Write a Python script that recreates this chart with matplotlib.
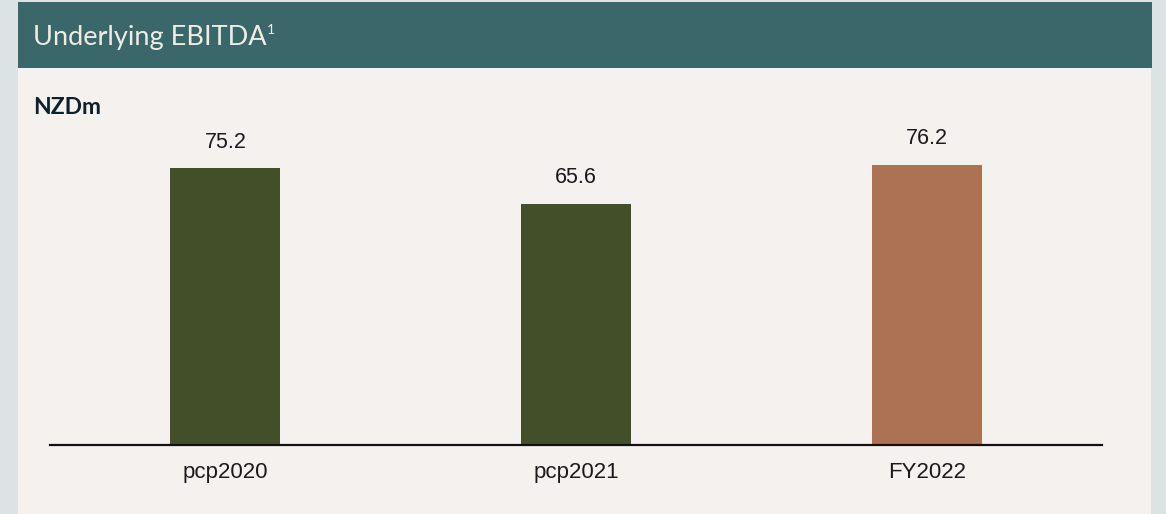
import matplotlib.pyplot as plt
from matplotlib.patches import Rectangle

# Underlying EBITDA, NZD millions
periods = ['pcp2020', 'pcp2021', 'FY2022']
ebitda = [75.2, 65.6, 76.2]
bar_colors = ['#424f29', '#424f29', '#ab7254']

plt.rcParams['font.family'] = ['Liberation Sans', 'DejaVu Sans']

W, H = 1166, 514
fig = plt.figure(figsize=(W / 100, H / 100), dpi=100)
fig.patch.set_facecolor('#dce3e5')

# card body and header strip (pixel coordinates from top-left)
def px_rect(x0, y0, x1, y1, color):
    fig.patches.append(Rectangle((x0 / W, 1 - y1 / H), (x1 - x0) / W, (y1 - y0) / H,
                                 transform=fig.transFigure, facecolor=color,
                                 edgecolor='none', zorder=-10))

px_rect(18, 68, 1151, 514, '#f4f1ee')
px_rect(18, 2, 1152, 68, '#3a6769')

title = fig.text(33 / W, 1 - 38 / H, 'Underlying EBITDA', color='#f0ece4',
                 fontsize=19.5, fontfamily='Lato', va='center', ha='left')
fig.canvas.draw()
bb = title.get_window_extent()
fig.text(bb.x1 / W, 1 - 30 / H, '1', color='#f0ece4', fontsize=10,
         fontfamily='Lato', va='center', ha='left')
fig.text(33 / W, 1 - 107 / H, 'NZDm', color='#10202a', fontsize=16.5,
         fontfamily='Lato', fontweight='bold', va='center', ha='left')

# plot area: baseline at y=445px, from x=50 to 1102
ax = fig.add_axes([50 / W, 1 - 445 / H, (1102 - 50) / W, (445 - 114) / H])
ax.set_facecolor('none')
ax.bar(range(len(periods)), ebitda, width=0.314, color=bar_colors, zorder=2)
ax.set_xlim(-0.5, 2.5)
ax.set_ylim(0, 90)

for i, v in enumerate(ebitda):
    ax.annotate(f'{v:.1f}', (i, v), xytext=(0, 11), textcoords='offset points',
                ha='center', va='bottom', fontsize=15.5, color='#1a1a1a')

ax.set_xticks(range(len(periods)))
ax.set_xticklabels(periods, fontsize=16, color='#1a1a1a')
ax.tick_params(axis='x', length=0, pad=12)
ax.set_yticks([])
for s in ['top', 'right', 'left']:
    ax.spines[s].set_visible(False)
ax.spines['bottom'].set_linewidth(1.6)
ax.spines['bottom'].set_color('#111111')
ax.spines['bottom'].set_zorder(3)

fig.savefig('out.png', dpi=100, facecolor=fig.get_facecolor())
